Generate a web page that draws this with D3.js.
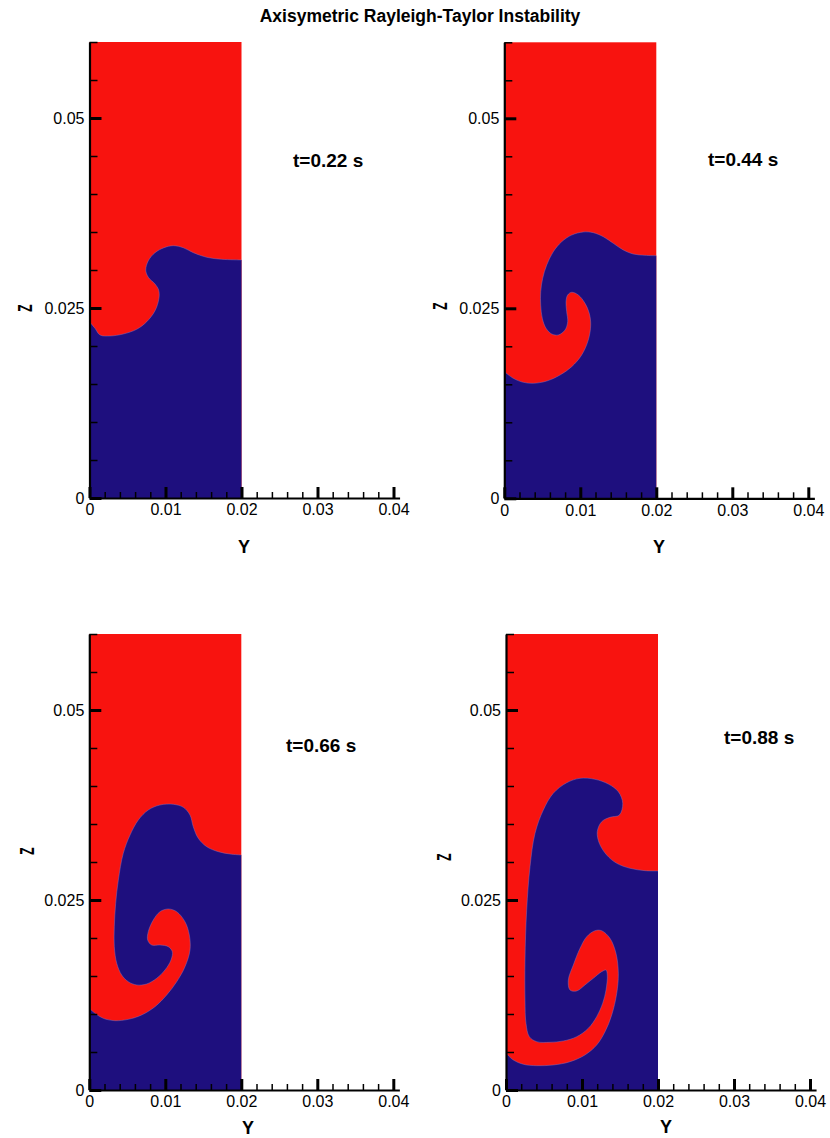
<!DOCTYPE html>
<html>
<head>
<meta charset="utf-8">
<script src="https://cdn.jsdelivr.net/npm/d3@7"></script>
<style>
  body { margin: 0; background: #fff; }
  svg { display: block; font-family: 'Liberation Sans', Arial, Helvetica, sans-serif; }
</style>
</head>
<body>
<svg id="chart" width="830" height="1138"></svg>
<script>
// chart text
const title = 'Axisymetric Rayleigh-Taylor Instability';
const times = ['t=0.22 s', 't=0.44 s', 't=0.66 s', 't=0.88 s'];

// axis ticks (Y horizontal, Z vertical)
const yTicks = [0, 0.01, 0.02, 0.03, 0.04];
const yTickLabels = ['0', '0.01', '0.02', '0.03', '0.04'];
const zTicks = [0, 0.025, 0.05];
const zTickLabels = ['0', '0.025', '0.05'];

// fluid interface [Y, Z], from wall (Y=0) to outer wall (Y=0.02)
const interface022 = [
  [0, 0.0232], [0.00072, 0.02233], [0.00138, 0.02145], [0.0027, 0.02132], [0.00445, 0.02158],
  [0.00621, 0.0222], [0.00753, 0.0232], [0.00862, 0.02464], [0.00914, 0.02628], [0.0091, 0.02737],
  [0.00862, 0.02816], [0.00774, 0.02904], [0.0074, 0.03], [0.00774, 0.03122], [0.00862, 0.03228],
  [0.0098, 0.03293], [0.01103, 0.0332], [0.01234, 0.03293], [0.01366, 0.03228], [0.01542, 0.03167],
  [0.0174, 0.03141], [0.02, 0.03132]
];
const interface044 = [
  [0, 0.01667], [0.00118, 0.01579], [0.0025, 0.01526], [0.00382, 0.01513], [0.00558, 0.01543],
  [0.00733, 0.01622], [0.00887, 0.01732], [0.01018, 0.01886], [0.01105, 0.02083], [0.01137, 0.0228],
  [0.01118, 0.02434], [0.01062, 0.02566], [0.00974, 0.02675], [0.00887, 0.02711], [0.00834, 0.02675],
  [0.00812, 0.02587], [0.00821, 0.02455], [0.00834, 0.02324], [0.00799, 0.02214], [0.00711, 0.02149],
  [0.00624, 0.02162], [0.00549, 0.02237], [0.005, 0.02368], [0.00479, 0.02543], [0.00479, 0.02718],
  [0.00505, 0.02895], [0.00558, 0.0307], [0.00645, 0.03245], [0.00755, 0.03376], [0.00887, 0.03464],
  [0.01039, 0.03504], [0.01171, 0.03495], [0.01303, 0.03442], [0.01434, 0.03355], [0.01566, 0.03267],
  [0.01697, 0.03214], [0.01851, 0.03197], [0.02, 0.03192]
];
const interface066 = [
  [0, 0.01075], [0.00075, 0.01009], [0.00184, 0.00943], [0.00338, 0.00912], [0.00513, 0.0093],
  [0.00689, 0.00987], [0.00864, 0.01096], [0.01018, 0.0125], [0.0115, 0.01425], [0.01259, 0.01622],
  [0.01325, 0.01842], [0.01316, 0.0204], [0.01259, 0.02214], [0.0115, 0.02346], [0.01039, 0.02382],
  [0.0093, 0.02346], [0.00842, 0.02237], [0.00776, 0.02083], [0.00768, 0.01974], [0.00821, 0.01908],
  [0.0093, 0.01908], [0.01039, 0.01886], [0.01092, 0.0182], [0.01075, 0.01711], [0.00996, 0.01579],
  [0.00887, 0.0147], [0.00755, 0.01395], [0.00624, 0.01382], [0.00513, 0.01425], [0.00426, 0.01513],
  [0.00361, 0.01667], [0.00329, 0.01886], [0.00329, 0.02149], [0.00347, 0.02457], [0.00382, 0.02763],
  [0.00447, 0.03114], [0.00536, 0.03355], [0.00645, 0.03553], [0.00776, 0.03684], [0.0093, 0.0375],
  [0.01105, 0.03759], [0.01237, 0.0372], [0.01325, 0.03618], [0.01368, 0.03464], [0.01434, 0.03312],
  [0.01545, 0.03201], [0.01697, 0.03136], [0.01851, 0.03105], [0.02, 0.03092]
];
const interface088 = [
  [0, 0.00483], [0.00096, 0.00395], [0.00228, 0.00338], [0.00404, 0.0032], [0.00622, 0.00329],
  [0.00842, 0.00372], [0.01039, 0.00461], [0.01193, 0.00592], [0.01303, 0.00767], [0.01391, 0.00987],
  [0.01457, 0.01272], [0.01478, 0.01536], [0.01447, 0.01799], [0.01368, 0.01996], [0.01259, 0.02096],
  [0.01171, 0.02096], [0.01062, 0.02017], [0.00974, 0.01864], [0.00886, 0.01645], [0.0082, 0.01447],
  [0.00842, 0.01316], [0.0093, 0.01303], [0.01039, 0.01382], [0.01149, 0.0147], [0.01259, 0.01557],
  [0.01316, 0.01579], [0.01333, 0.01513], [0.01316, 0.01316], [0.01272, 0.01141], [0.01193, 0.00964],
  [0.01083, 0.00812], [0.0093, 0.00701], [0.00754, 0.00645], [0.00579, 0.00628], [0.00404, 0.00636],
  [0.00307, 0.00701], [0.00263, 0.00878], [0.0025, 0.01184], [0.0025, 0.01711], [0.00272, 0.02368],
  [0.00316, 0.02938], [0.00382, 0.03378], [0.00491, 0.03684], [0.00622, 0.03904], [0.00799, 0.04043],
  [0.00974, 0.04101], [0.01171, 0.04088], [0.01346, 0.04026], [0.01478, 0.03925], [0.01536, 0.03772],
  [0.01491, 0.03618], [0.01368, 0.03588], [0.01259, 0.0353], [0.01201, 0.03399], [0.01228, 0.03246],
  [0.01325, 0.03092], [0.01457, 0.02983], [0.01632, 0.02917], [0.01829, 0.02886], [0.02, 0.02882]
];

const RED = '#f8130f';
const BLUE = '#1e0f7e';
const SCALE = 7600; // px per metre, same for both directions
const yDomain = [0, 0.0408];
const zDomain = [0, 0.06];
const wallY = 0.02;

// where each panel sits on the page
const panels = [
  { left: 89.5, bottom: 498, iface: interface022, time: times[0], tx: 293, ty: 167, zl: [25, 308], yl: [244, 553] },
  { left: 504.3, bottom: 498.3, iface: interface044, time: times[1], tx: 708, ty: 166, zl: [440, 306], yl: [659, 553] },
  { left: 89.3, bottom: 1090, iface: interface066, time: times[2], tx: 286, ty: 752, zl: [27, 851], yl: [248, 1134] },
  { left: 506, bottom: 1090, iface: interface088, time: times[3], tx: 724, ty: 744, zl: [444, 857], yl: [666, 1133] }
];

const svg = d3.select('#chart');

svg.append('text')
  .attr('x', 420)
  .attr('y', 22)
  .attr('text-anchor', 'middle')
  .attr('font-size', '17.5px')
  .attr('font-weight', 'bold')
  .text(title);

panels.forEach((p) => {
  const x = d3.scaleLinear().domain(yDomain).range([p.left, p.left + yDomain[1] * SCALE]);
  const z = d3.scaleLinear().domain(zDomain).range([p.bottom, p.bottom - zDomain[1] * SCALE]);
  const g = svg.append('g');

  // heavy fluid everywhere, light fluid below the interface
  g.append('rect')
    .attr('x', x(0))
    .attr('y', z(zDomain[1]))
    .attr('width', x(wallY) - x(0))
    .attr('height', z(0) - z(zDomain[1]))
    .attr('fill', RED);

  const line = d3.line()
    .x(d => x(d[0]))
    .y(d => z(d[1]))
    .curve(d3.curveCatmullRom.alpha(0.5));

  g.append('path')
    .attr('d', line(p.iface) + `L${x(wallY)},${z(0)}L${x(0)},${z(0)}Z`)
    .attr('fill', BLUE);

  g.append('path')
    .attr('d', line(p.iface))
    .attr('fill', 'none')
    .attr('stroke', '#7f7acb')
    .attr('stroke-width', 0.8)
    .attr('opacity', 0.55);

  // minor ticks
  g.append('g')
    .attr('transform', `translate(0,${z(0)})`)
    .call(d3.axisBottom(x).tickValues(d3.range(0.002, 0.0401, 0.002)).tickSize(-6).tickFormat(''))
    .call(a => a.select('.domain').remove())
    .call(a => a.selectAll('line').attr('stroke-width', 1.5));

  g.append('g')
    .attr('transform', `translate(${x(0)},0)`)
    .call(d3.axisLeft(z).tickValues(d3.range(0.005, 0.0601, 0.005)).tickSize(-8).tickFormat(''))
    .call(a => a.select('.domain').remove())
    .call(a => a.selectAll('line').attr('stroke-width', 1.5));

  // major ticks + axis lines
  const xAxis = g.append('g')
    .attr('transform', `translate(0,${z(0)})`)
    .call(d3.axisBottom(x).tickValues(yTicks).tickSize(-11).tickSizeOuter(0).tickPadding(6)
      .tickFormat((d, i) => yTickLabels[i]));

  const zAxis = g.append('g')
    .attr('transform', `translate(${x(0)},0)`)
    .call(d3.axisLeft(z).tickValues(zTicks).tickSize(-12).tickSizeOuter(0).tickPadding(5)
      .tickFormat((d, i) => zTickLabels[i]));

  [xAxis, zAxis].forEach(a => {
    a.attr('font-size', null).attr('font-family', null);
    a.select('.domain').attr('stroke', '#000').attr('stroke-width', 2.2);
    a.selectAll('.tick line').attr('stroke', '#000').attr('stroke-width', 3);
    a.selectAll('.tick text').attr('fill', '#000').attr('font-size', '16px');
  });

  // axis titles
  g.append('text')
    .attr('x', p.yl[0])
    .attr('y', p.yl[1])
    .attr('text-anchor', 'middle')
    .attr('font-size', '18px')
    .attr('font-weight', 'bold')
    .text('Y');

  g.append('text')
    .attr('transform', `translate(${p.zl[0]},${p.zl[1]}) rotate(-90) scale(0.6,1)`)
    .attr('text-anchor', 'middle')
    .attr('dominant-baseline', 'central')
    .attr('font-size', '20px')
    .attr('font-weight', 'bold')
    .text('Z');

  g.append('text')
    .attr('x', p.tx)
    .attr('y', p.ty)
    .attr('font-size', '19px')
    .attr('font-weight', 'bold')
    .text(p.time);
});
</script>
</body>
</html>
